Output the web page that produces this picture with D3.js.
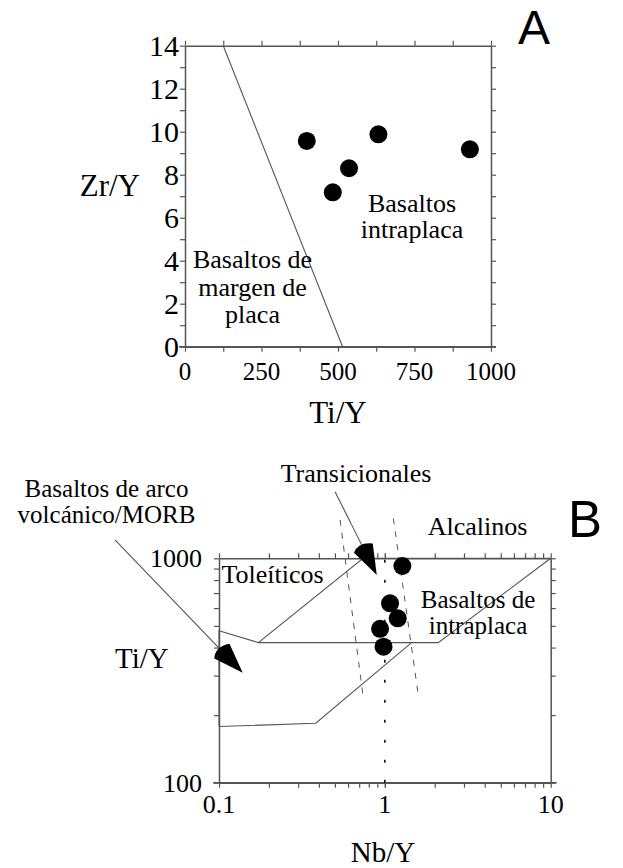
<!DOCTYPE html>
<html>
<head>
<meta charset="utf-8">
<script src="https://cdn.jsdelivr.net/npm/d3@7"></script>
<style>
  html, body { margin: 0; padding: 0; background: #fff; }
  svg { display: block; }
  .serif { font-family: "Liberation Serif", "Times New Roman", serif; fill: #000; }
  .sans { font-family: "Liberation Sans", Arial, sans-serif; fill: #000; }
</style>
</head>
<body>
<svg id="chart" width="623" height="868"></svg>
<script>
// ---- Panel A: Zr/Y vs Ti/Y ----
const tiY_A = [398, 483, 536, 632, 931];
const zrY_A = [9.57, 7.18, 8.30, 9.88, 9.18];
const xTicksA = [0, 250, 500, 750, 1000];
const yTicksA = [0, 2, 4, 6, 8, 10, 12, 14];
const boundaryA = [[125, 14], [515, 0]];

// ---- Panel B: Ti/Y vs Nb/Y (log-log) ----
const nbY_B = [1.275, 1.075, 1.196, 0.936, 0.982];
const tiY_B = [924, 630, 540, 485, 404];
const xTicksB = [0.1, 1, 10];
const xTickLabelsB = ["0.1", "1", "10"];
const yTicksB = [100, 1000];
const fieldLinesB = [
  [[0.1, 178], [0.1, 476], [0.1726, 421], [0.739, 1000], [10, 1000]],
  [[0.1726, 421], [2.10, 421], [10, 1000]],
  [[0.1, 178], [0.383, 184], [1.45, 421]]
];
const dashedLinesB = [
  [[0.537, 1483], [0.742, 238]],
  [[1.125, 1507], [1.59, 246]]
];
const dottedLineB = [[1, 100], [1, 1000]];
// label arrows: [start, tip]
const arrowsB = [
  [[0.5008, 1982], [0.894, 843]],
  [[0.0236, 1207], [0.139, 309]]
];

const svg = d3.select("#chart");
const frameColor = "#555";
const lineColor = "#555";

// Scales
const xA = d3.scaleLinear().domain([0, 1000]).range([185, 491]);
const yA = d3.scaleLinear().domain([0, 14]).range([346.7, 45.7]);
const xB = d3.scaleLog().domain([0.1, 10]).range([219, 550.7]);
const yB = d3.scaleLog().domain([100, 1000]).range([782.7, 558.3]);

function styleAxis(g) {
  g.select(".domain").attr("stroke", frameColor).attr("stroke-width", 1.5);
  g.selectAll(".tick line").attr("stroke", frameColor).attr("stroke-width", 1.2);
  g.selectAll(".tick text").remove();
}

// ---- Panel A frame ----
const minorXA = d3.range(0, 1001, 125);
const minorYA = d3.range(0, 15, 1);
svg.append("g").attr("transform", `translate(0,${yA(0)})`)
  .call(d3.axisBottom(xA).tickValues(minorXA).tickSizeInner(5).tickSizeOuter(0)).call(styleAxis);
svg.append("g").attr("transform", `translate(0,${yA(14)})`)
  .call(d3.axisTop(xA).tickValues(minorXA).tickSizeInner(5).tickSizeOuter(0)).call(styleAxis);
svg.append("g").attr("transform", `translate(${xA(0)},0)`)
  .call(d3.axisLeft(yA).tickValues(minorYA).tickSizeInner(5).tickSizeOuter(0)).call(styleAxis);
svg.append("g").attr("transform", `translate(${xA(1000)},0)`)
  .call(d3.axisRight(yA).tickValues(minorYA).tickSizeInner(5).tickSizeOuter(0)).call(styleAxis);

// frame line extensions past the corners
svg.append("line").attr("x1", xA(0) - 6).attr("x2", xA(1000) + 5)
  .attr("y1", yA(0)).attr("y2", yA(0)).attr("stroke", frameColor).attr("stroke-width", 1.5);

// tick labels A
svg.append("g").selectAll("text").data(xTicksA).join("text")
  .attr("class", "serif").attr("x", d => xA(d)).attr("y", 380)
  .attr("text-anchor", "middle").attr("font-size", 25).text(d => d);
svg.append("g").selectAll("text").data(yTicksA).join("text")
  .attr("class", "serif").attr("x", 179).attr("y", d => yA(d) + 10)
  .attr("text-anchor", "end").attr("font-size", 30).text(d => d);

// boundary line A
const lineA = d3.line().x(d => xA(d[0])).y(d => yA(d[1]));
svg.append("path").attr("d", lineA(boundaryA))
  .attr("fill", "none").attr("stroke", lineColor).attr("stroke-width", 1.1);

// points A
svg.append("g").selectAll("circle").data(tiY_A).join("circle")
  .attr("cx", d => xA(d)).attr("cy", (d, i) => yA(zrY_A[i])).attr("r", 9).attr("fill", "#000");

// multi-line field labels as one text element with tspans
function multiline(x, ys, lines, size, anchor) {
  const t = svg.append("text").attr("class", "serif")
    .attr("text-anchor", anchor || "middle").attr("font-size", size);
  lines.forEach((s, i) => {
    t.append("tspan").attr("x", x).attr("y", ys[i]).text(s);
  });
}
multiline(412, [211.5, 238], ["Basaltos", "intraplaca"], 26);
multiline(252.5, [268, 296, 323], ["Basaltos de", "margen de", "placa"], 26);
svg.append("text").attr("class", "serif").attr("x", 338).attr("y", 423)
  .attr("text-anchor", "middle").attr("font-size", 31).text("Ti/Y");
svg.append("text").attr("class", "serif").attr("x", 140).attr("y", 196)
  .attr("text-anchor", "end").attr("font-size", 31).text("Zr/Y");
svg.append("text").attr("class", "sans").attr("x", 518).attr("y", 44)
  .attr("font-size", 48).text("A");

// ---- Panel B frame ----
const minorXB = [];
[0.1, 1].forEach(dec => { for (let k = 1; k <= 10; k++) minorXB.push(+(dec * k).toPrecision(3)); });
const minorYB = d3.range(100, 1001, 100);
svg.append("g").attr("transform", `translate(0,${yB(100)})`)
  .call(d3.axisBottom(xB).tickValues(minorXB).tickSizeInner(5).tickSizeOuter(0)).call(styleAxis);
svg.append("g").attr("transform", `translate(0,${yB(1000)})`)
  .call(d3.axisTop(xB).tickValues(minorXB).tickSizeInner(5).tickSizeOuter(0)).call(styleAxis);
svg.append("g").attr("transform", `translate(${xB(0.1)},0)`)
  .call(d3.axisLeft(yB).tickValues(minorYB).tickSizeInner(5).tickSizeOuter(0)).call(styleAxis);
svg.append("g").attr("transform", `translate(${xB(10)},0)`)
  .call(d3.axisRight(yB).tickValues(minorYB).tickSizeInner(5).tickSizeOuter(0)).call(styleAxis);
svg.append("line").attr("x1", xB(0.1) - 6).attr("x2", xB(10) + 6)
  .attr("y1", yB(100)).attr("y2", yB(100)).attr("stroke", frameColor).attr("stroke-width", 1.5);

svg.append("g").selectAll("text").data(xTicksB).join("text")
  .attr("class", "serif").attr("x", d => xB(d)).attr("y", 812.5)
  .attr("text-anchor", "middle").attr("font-size", 26).text((d, i) => xTickLabelsB[i]);
svg.append("g").selectAll("text").data(yTicksB).join("text")
  .attr("class", "serif").attr("x", 202).attr("y", d => yB(d) + 9)
  .attr("text-anchor", "end").attr("font-size", 26).text(d => d);

// field boundaries B
const lineB = d3.line().x(d => xB(d[0])).y(d => yB(d[1]));
svg.append("g").selectAll("path").data(fieldLinesB).join("path")
  .attr("d", lineB).attr("fill", "none").attr("stroke", lineColor).attr("stroke-width", 1.1);
svg.append("g").selectAll("path").data(dashedLinesB).join("path")
  .attr("d", lineB).attr("fill", "none").attr("stroke", lineColor)
  .attr("stroke-width", 1).attr("stroke-dasharray", "6,7");
svg.append("path").attr("d", lineB(dottedLineB)).attr("fill", "none")
  .attr("stroke", "#000").attr("stroke-width", 1.5).attr("stroke-dasharray", "3,17");

// pointer arrows with filled wedge heads
arrowsB.forEach(([s, t]) => {
  const x0 = xB(s[0]), y0 = yB(s[1]), x1 = xB(t[0]), y1 = yB(t[1]);
  const dx = x1 - x0, dy = y1 - y0, len = Math.hypot(dx, dy);
  const ux = dx / len, uy = dy / len, px = -uy, py = ux;
  const L = 30, W = 10.5;
  const bx = x1 - ux * L, by = y1 - uy * L;
  svg.append("line").attr("x1", x0).attr("y1", y0).attr("x2", bx).attr("y2", by)
    .attr("stroke", lineColor).attr("stroke-width", 1.1);
  const c1x = bx + px * W, c1y = by + py * W, c2x = bx - px * W, c2y = by - py * W;
  const qx = bx - ux * 8, qy = by - uy * 8;
  svg.append("path")
    .attr("d", `M${x1},${y1}L${c1x},${c1y}Q${qx + px * 2},${qy + py * 2} ${c2x},${c2y}Z`)
    .attr("fill", "#000");
});

// points B
svg.append("g").selectAll("circle").data(nbY_B).join("circle")
  .attr("cx", d => xB(d)).attr("cy", (d, i) => yB(tiY_B[i])).attr("r", 9).attr("fill", "#000");

// labels B
multiline(106.5, [497, 523], ["Basaltos de arco", "volcánico/MORB"], 25);
multiline(356, [481.5], ["Transicionales"], 26);
multiline(477.5, [535], ["Alcalinos"], 26);
multiline(221.5, [583], ["Toleíticos"], 26, "start");
multiline(478, [607.5, 633.5], ["Basaltos de", "intraplaca"], 25);
svg.append("text").attr("class", "serif").attr("x", 115).attr("y", 668)
  .attr("font-size", 29).text("Ti/Y");
svg.append("text").attr("class", "serif").attr("x", 383).attr("y", 862)
  .attr("text-anchor", "middle").attr("font-size", 29).text("Nb/Y");
svg.append("text").attr("class", "sans").attr("x", 568).attr("y", 537)
  .attr("font-size", 51).text("B");
</script>
</body>
</html>
